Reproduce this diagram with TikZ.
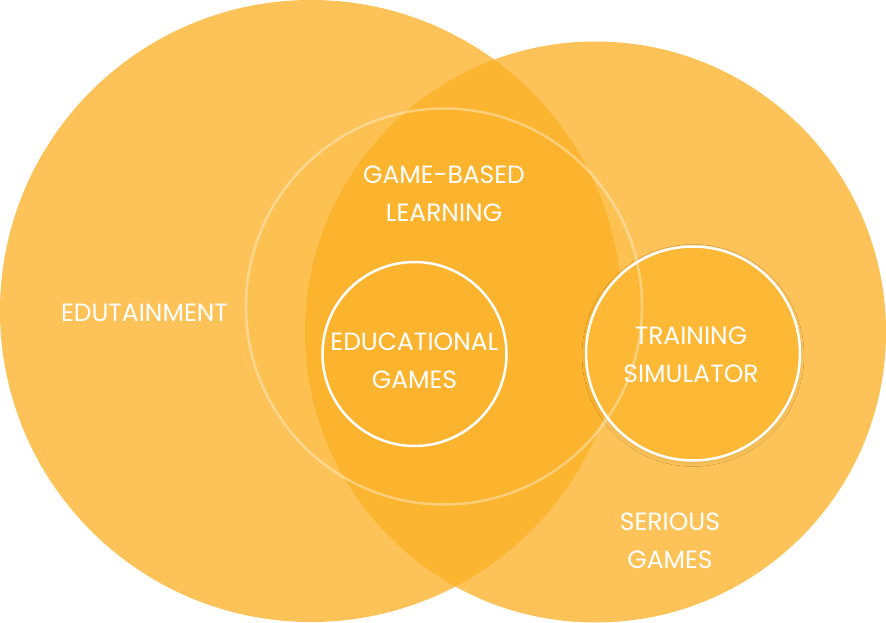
\documentclass[tikz,border=0pt]{standalone}
\usepackage{fontspec}
\setmainfont{Poppins}
\usetikzlibrary{shadows.blur}
\definecolor{circ}{RGB}{252,176,36}
\definecolor{traincol}{RGB}{253,184,54}
\tikzset{
  bigcirc/.style={circle, inner sep=0pt, outer sep=0pt, fill=circ, fill opacity=0.76},
  ringcirc/.style={circle, inner sep=0pt, outer sep=0pt, draw=white, line width=2.5pt},
  gblring/.style={draw=white, draw opacity=0.35, line width=2.5pt},
  lbl/.style={text=white, font=\fontsize{25}{38}\selectfont, align=center, text opacity=1},
}
\begin{document}
\begin{tikzpicture}[x=1pt, y=-1pt]
\useasboundingbox (0,0) rectangle (886,623);
% big circles
\node[bigcirc, minimum size=622pt] (edut) at (311,311) {};
\node[bigcirc, minimum size=581pt] (serious) at (595.5,332) {};
% game-based learning circle (fill)
\node[circle, inner sep=0pt, outer sep=0pt, minimum size=396pt, fill=circ, fill opacity=0.12] (gbl) at (444,306.5) {};
% training simulator circle
\node[ringcirc, minimum size=214pt, fill=traincol,
  blur shadow={shadow xshift=0pt, shadow yshift=-2pt, shadow blur radius=4pt, shadow opacity=10}] (train) at (693,353.5) {};
% game-based learning ring on top
\draw[gblring] (gbl.center) circle[radius=198pt];
% educational games circle
\node[ringcirc, minimum size=184pt] (edu) at (414.5,354) {};
% labels
\node[lbl] (edutl) at (144.5,313) {EDUTAINMENT};
\node[lbl] (gbll) at (444,193.5) {GAME-BASED\\LEARNING};
\node[lbl] (edul) at (414.5,361) {EDUCATIONAL\\GAMES};
\node[lbl] (trainl) at (691,355) {TRAINING\\SIMULATOR};
\node[lbl] (seriousl) at (670,541) {SERIOUS\\GAMES};
\end{tikzpicture}
\end{document}
